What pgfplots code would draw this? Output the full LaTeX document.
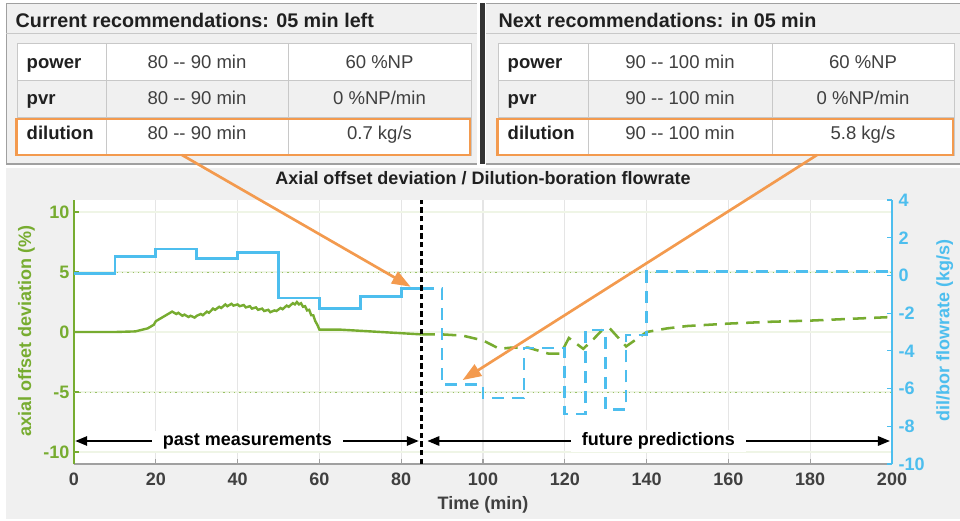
\documentclass[border=0pt]{standalone}
\usepackage{fontspec}
\setmainfont{Liberation Sans}
\usepackage{pgfplots}
\usepackage{pgfplotstable}
\pgfplotsset{compat=1.18}
\usetikzlibrary{arrows.meta}

\definecolor{aogreen}{HTML}{77AC30}
\definecolor{flowblue}{HTML}{4DBEEE}
\definecolor{callout}{HTML}{F39A4E}
\definecolor{panelbg}{HTML}{F0F0F0}
\definecolor{cellline}{HTML}{C8C8C8}
\definecolor{framegray}{HTML}{A0A0A0}
\definecolor{txtgray}{HTML}{404040}
\definecolor{txtdark}{HTML}{202020}

\newcommand{\chartfont}{\fontsize{13.5}{16}\selectfont\bfseries}
\newcommand{\tabfont}{\fontsize{13.9}{16}\selectfont}
\newcommand{\hdrfont}{\fontsize{14.8}{17}\selectfont\bfseries}

% axial offset deviation (%), measured
\pgfplotstableread{
t ao
0 0
10 0
15 0.05
18 0.3
19.5 0.6
20 0.9
21 1.1
22 1.3
23 1.5
24 1.7
25 1.5
25.5 1.6
26.5 1.35
27 1.45
28 1.25
28.5 1.35
29.5 1.2
30 1.35
31 1.5
31.5 1.4
32.5 1.7
33 1.6
34 1.95
34.5 1.85
35.5 2.1
36 2.0
37 2.3
37.5 2.15
38.5 2.35
39 2.2
40 2.3
40.5 2.15
41.5 2.25
42 2.05
43 2.15
43.5 1.95
44.5 2.05
45 1.85
46 1.95
46.5 1.75
47.5 1.85
48 1.65
49 1.8
49.5 1.75
50.5 2.0
51 1.9
52 2.2
52.5 2.1
53.5 2.4
54 2.3
54.5 2.5
55 2.3
55.5 2.4
56 2.1
56.5 2.15
57 1.8
57.5 1.85
58 1.4
58.5 1.4
59 0.9
59.5 0.6
60 0.2
62 0.2
65 0.2
70 0.1
75 0.0
80 -0.1
85 -0.2
}\aopast

% axial offset deviation (%), predicted
\pgfplotstableread{
t ao
85 -0.2
90 -0.2
95 -0.3
100 -0.7
104 -1.4
107 -1.3
111 -1.3
116 -1.8
119 -1.8
121 -0.5
124.5 -1.4
127 -0.6
129.5 0.3
131 0.3
135 -1.2
140 0
145 0.3
150 0.5
160 0.7
170 0.85
180 0.95
190 1.1
200 1.25
}\aofut

% dilution/boration flowrate (kg/s), steps
\pgfplotstableread{
t q
0 0.1
10 1.0
20 1.4
30 0.9
40 1.2
50 -1.2
60 -1.75
70 -1.1
80 -0.7
85 -0.7
}\flowpast

\pgfplotstableread{
t q
85 -0.7
90 -5.8
100 -6.5
110 -3.85
120 -7.35
125 -2.9
130 -7.1
135 -3.15
140 0.2
200 0.2
}\flowfut

% #1-#4 column edges (px), #5 time window, #6 dilution value
\newcommand{\rectable}[6]{%
  \fill[white] (#1,43) rectangle (#4,80);
  \fill[panelbg] (#1,80) rectangle (#4,117);
  \fill[white] (#1,117) rectangle (#4,155);
  \draw[cellline] (#1,43) rectangle (#4,155);
  \draw[cellline] (#1,80) -- (#4,80) (#1,117) -- (#4,117);
  \draw[cellline] (#2,43) -- (#2,155) (#3,43) -- (#3,155);
  \node[anchor=base west, font=\tabfont\bfseries, text=txtdark] at ({#1+5},68) {power};
  \node[anchor=base west, font=\tabfont\bfseries, text=txtdark] at ({#1+5},104) {pvr};
  \node[anchor=base west, font=\tabfont\bfseries, text=txtdark] at ({#1+5},139.5) {dilution};
  \foreach \yy in {68,104,139.5}
    \node[anchor=base, font=\tabfont, text=txtgray] at ({(#2+#3)/2},\yy) {#5};
  \node[anchor=base, font=\tabfont, text=txtgray] at ({(#3+#4)/2},68) {60 \%NP};
  \node[anchor=base, font=\tabfont, text=txtgray] at ({(#3+#4)/2},104) {0 \%NP/min};
  \node[anchor=base, font=\tabfont, text=txtgray] at ({(#3+#4)/2},139.5) {#6};
  \draw[callout, line width=1.6pt] ({#1-0.5},119) rectangle ({#4-1},155);
}

\begin{document}
\begin{tikzpicture}
\begin{scope}[x=0.75pt, y=-0.75pt]
  \fill[white] (0,0) rectangle (960,521);
  \fill[panelbg] (6,168) rectangle (960,519);
  % left panel
  \fill[panelbg] (6,3) rectangle (477,164);
  \draw[framegray] (6,164) -- (6,3) -- (477,3);
  \draw[framegray, line width=1.2pt] (6,164) -- (477,164);
  \draw[cellline] (6,33) -- (477,33);
  \node[anchor=base west, font=\hdrfont, text=txtdark] at (11,27) {Current recommendations: 05 min left};
  \rectable{17}{106}{288}{471}{80 -{}- 90 min}{0.7 kg/s}
  % right panel
  \fill[panelbg] (486,3) rectangle (960,164);
  \fill[black!80] (480,3) rectangle (485,164);
  \draw[framegray] (486,3) -- (960,3);
  \draw[framegray, line width=1.2pt] (486,164) -- (960,164);
  \draw[cellline] (486,33) -- (960,33);
  \node[anchor=base west, font=\hdrfont, text=txtdark] at (494,27) {Next recommendations: in 05 min};
  \rectable{498}{588}{772}{954}{90 -{}- 100 min}{5.8 kg/s}
\end{scope}

\begin{axis}[
  at={(55.5pt,-348pt)}, anchor=south west,
  scale only axis, width=613.5pt, height=198pt,
  xmin=0, xmax=200, ymin=-11, ymax=11,
  axis x line*=bottom, axis y line*=left,
  tick align=inside, major tick length=4pt,
  xtick={0,20,...,200}, ytick={-10,-5,0,5,10},
  x axis line style={draw=framegray, line width=1.5pt, -},
  y axis line style={draw=aogreen, line width=0.8pt, -},
  xtick style={draw=framegray, line width=0.8pt},
  ytick style={draw=aogreen, line width=0.8pt},
  axis background/.style={fill=white},
  xmajorgrids, ymajorgrids,
  x grid style={draw=black!10, line width=0.8pt},
  y grid style={draw=aogreen!12, line width=0.8pt},
  /pgf/number format/assume math mode=true,
  tick label style={font=\chartfont},
  xticklabel style={text=txtgray, yshift=-3.5pt},
  yticklabel style={text=aogreen},
  title={Axial offset deviation / Dilution-boration flowrate},
  title style={font=\chartfont, text=txtdark, at={(axis description cs:0.5,1.03)}, anchor=base},
  xlabel={Time (min)},
  xlabel style={font=\chartfont, text=txtgray, at={(axis description cs:0.5,-0.174)}, anchor=base},
  ylabel={axial offset deviation (\%)},
  ylabel style={font=\chartfont, text=aogreen, at={(axis description cs:-0.058,0.505)}, anchor=center},
]
\addplot[aogreen!75, line width=0.7pt, dash pattern=on 1pt off 3pt, forget plot] coordinates {(0,5) (200,5)};
\addplot[aogreen!75, line width=0.7pt, dash pattern=on 1pt off 3pt, forget plot] coordinates {(0,-5) (200,-5)};
\addplot[aogreen, line width=1.8pt] table[x=t, y=ao] {\aopast};
\addplot[aogreen, line width=1.9pt, dash pattern=on 10pt off 6pt] table[x=t, y=ao] {\aofut};
\end{axis}

\begin{axis}[
  at={(55.5pt,-348pt)}, anchor=south west,
  scale only axis, width=613.5pt, height=198pt,
  xmin=0, xmax=200, ymin=-10, ymax=4,
  axis y line*=right, axis x line=none,
  clip=false,
  tick align=inside, major tick length=4pt,
  ytick={-10,-8,...,4},
  y axis line style={draw=flowblue, line width=0.8pt, -},
  ytick style={draw=flowblue, line width=0.8pt},
  /pgf/number format/assume math mode=true,
  tick label style={font=\chartfont},
  yticklabel style={text=flowblue, xshift=1.5pt},
  ylabel={dil/bor flowrate (kg/s)},
  ylabel style={font=\chartfont, text=flowblue, at={(axis description cs:1.0645,0.505)}, anchor=center},
]
\addplot[flowblue, line width=2pt, const plot] table[x=t, y=q] {\flowpast};
\addplot[flowblue, line width=2pt, const plot, dash pattern=on 9pt off 6pt] table[x=t, y=q] {\flowfut};
\draw[black, line width=2pt, dash pattern=on 4pt off 2.5pt] (axis cs:85,-10) -- (axis cs:85,4);
\draw[black, line width=1.5pt, {Triangle[length=9pt,width=7pt]}-{Triangle[length=9pt,width=7pt]}]
  (axis cs:0.3,-8.78) -- (axis cs:84.3,-8.78);
\draw[black, line width=1.5pt, {Triangle[length=9pt,width=7pt]}-{Triangle[length=9pt,width=7pt]}]
  (axis cs:86.4,-8.78) -- (axis cs:199.5,-8.78);
\node[fill=white, inner xsep=8pt, inner ysep=2pt, font=\chartfont, text=black] at (axis cs:42.4,-8.78) {past measurements};
\node[fill=white, inner xsep=8pt, inner ysep=2pt, font=\chartfont, text=black] at (axis cs:142.9,-8.78) {future predictions};
\coordinate (tipA) at (axis cs:82.3,-0.6);
\coordinate (tipB) at (axis cs:95,-5.55);
\end{axis}

\begin{scope}[x=0.75pt, y=-0.75pt]
  \draw[callout, line width=2pt, -{Triangle[length=14pt,width=10pt]}] (182,155) -- (tipA);
  \draw[callout, line width=2pt, -{Triangle[length=14pt,width=10pt]}] (817,155) -- (tipB);
\end{scope}
\pgfresetboundingbox
\path[use as bounding box] (0,0) rectangle (720pt,-390.75pt);
\end{tikzpicture}
\end{document}
